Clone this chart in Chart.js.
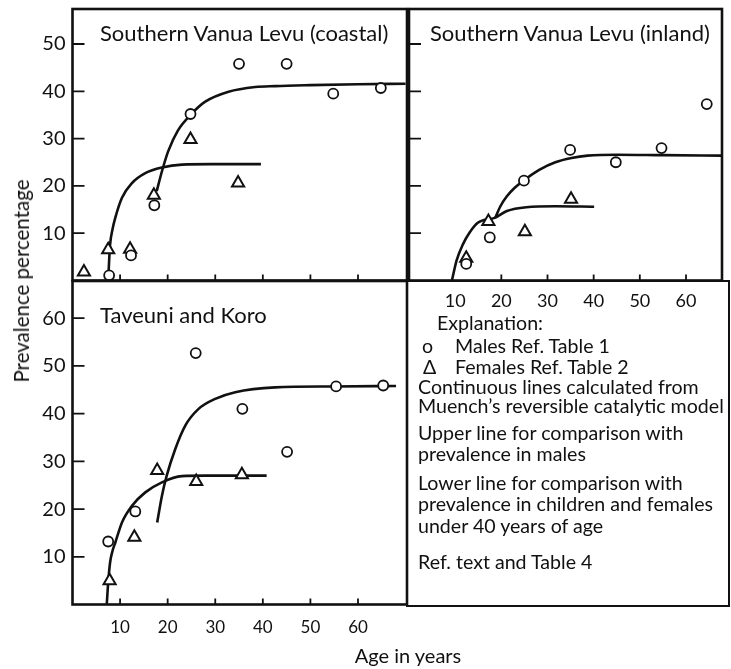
<!DOCTYPE html>
<html>
<head>
<meta charset="utf-8">
<script src="https://cdn.jsdelivr.net/npm/chart.js@4.4.1/dist/chart.umd.min.js"></script>
<style>
  body { margin: 0; background: #fff; }
  #page { position: relative; width: 731px; height: 669px; overflow: hidden; font-family: Lato, 'Open Sans', sans-serif; color: #111; }
  #page canvas { position: absolute; }
  .txt { position: absolute; white-space: nowrap; height: 24px; line-height: 24px; }
  .title { font-size: 22px; }
  .expl { font-size: 19.6px; }
  #box { position: absolute; left: 406px; top: 280px; width: 322px; height: 323px; border: 2.5px solid #111; border-left: none; }
  #ytitle { position: absolute; left: 21px; top: 281px; font-size: 20.5px; white-space: nowrap; transform: translate(-50%, -50%) rotate(-90deg); }
  #xtitle { position: absolute; left: 408px; top: 655px; font-size: 20px; white-space: nowrap; transform: translate(-50%, -50%); }
</style>
</head>
<body>
<div id="page">
  <div id="box"></div>
  <canvas id="coastal" width="420" height="300" style="left:0;top:0"></canvas>
  <canvas id="inland" width="331" height="330" style="left:400px;top:0"></canvas>
  <canvas id="taveuni" width="420" height="380" style="left:0;top:270px"></canvas>

  <div class="txt title" style="left:100px;top:21px">Southern Vanua Levu (coastal)</div>
  <div class="txt title" style="left:430px;top:21px">Southern Vanua Levu (inland)</div>
  <div class="txt title" style="left:100px;top:303px">Taveuni and Koro</div>

  <div class="txt expl" style="left:437px;top:311px">Explanation:</div>
  <div class="txt expl" style="left:422px;top:334px">o</div>
  <div class="txt expl" style="left:455px;top:334px">Males Ref. Table 1</div>
  <div class="txt expl" style="left:423px;top:355px">Δ</div>
  <div class="txt expl" style="left:455px;top:355px">Females Ref. Table 2</div>
  <div class="txt expl" style="left:418px;top:375px">Continuous lines calculated from</div>
  <div class="txt expl" style="left:418px;top:394px">Muench’s reversible catalytic model</div>
  <div class="txt expl" style="left:418px;top:421px">Upper line for comparison with</div>
  <div class="txt expl" style="left:418px;top:442px">prevalence in males</div>
  <div class="txt expl" style="left:418px;top:471px">Lower line for comparison with</div>
  <div class="txt expl" style="left:418px;top:492px">prevalence in children and females</div>
  <div class="txt expl" style="left:418px;top:514px">under 40 years of age</div>
  <div class="txt expl" style="left:418px;top:550px">Ref. text and Table 4</div>

  <div id="ytitle">Prevalence percentage</div>
  <div id="xtitle">Age in years</div>
</div>
<script>
const INK = '#111';

// tick values
const ageTicks = [10, 20, 30, 40, 50, 60];
const prevTicksTop = [10, 20, 30, 40, 50];
const prevTicksBottom = [10, 20, 30, 40, 50, 60];

// Southern Vanua Levu (coastal)
const coastalMaleAge = [7.7, 12.3, 17.2, 24.8, 35, 45, 54.8, 64.8];
const coastalMalePrev = [1.1, 5.3, 15.9, 35.2, 45.8, 45.8, 39.5, 40.7];
const coastalFemaleAge = [2.4, 7.5, 12.1, 17.1, 24.8, 34.8];
const coastalFemalePrev = [1.8, 6.5, 6.6, 18.0, 29.8, 20.6];
const coastalUpperAge = [17.7, 18.8, 20.1, 22.2, 24.9, 27.9, 32.8, 38.4, 42.6, 50, 60, 70];
const coastalUpperPrev = [18.9, 23.1, 27.3, 31.8, 35.1, 37.8, 39.9, 40.9, 41.1, 41.3, 41.5, 41.6];
const coastalLowerAge = [7.5, 7.7, 7.9, 8.4, 9.0, 10.4, 12.5, 15.3, 18.8, 23, 29.3, 39.6];
const coastalLowerPrev = [0, 4.2, 7.6, 10.8, 13.3, 17.5, 20.6, 22.7, 23.9, 24.5, 24.6, 24.6];

// Southern Vanua Levu (inland)
const inlandMaleAge = [12.4, 17.5, 24.9, 34.9, 44.8, 54.7, 64.5];
const inlandMalePrev = [3.5, 9.1, 21.1, 27.6, 25.0, 28.0, 37.3];
const inlandFemaleAge = [12.4, 17.2, 25.1, 35.1];
const inlandFemalePrev = [4.7, 12.5, 10.3, 17.2];
const inlandUpperAge = [18.7, 19.8, 21.2, 22.9, 24.9, 28.2, 31.7, 35.2, 38.7, 45.1, 55, 67.8];
const inlandUpperPrev = [13.3, 15.7, 17.8, 19.6, 21.2, 23.4, 25.0, 25.9, 26.4, 26.6, 26.5, 26.4];
const inlandLowerAge = [9.3, 10.3, 11.7, 13.1, 14.9, 18.7, 21.2, 25.4, 31.7, 40.1];
const inlandLowerPrev = [0, 4.2, 7.7, 10.1, 12.2, 13.3, 14.7, 15.5, 15.7, 15.6];

// Taveuni and Koro
const taveuniMaleAge = [7.5, 13.2, 25.9, 35.7, 45.1, 55.4, 65.3];
const taveuniMalePrev = [13.2, 19.5, 52.7, 41.0, 32.0, 45.7, 45.9];
const taveuniFemaleAge = [7.8, 13.0, 17.8, 26.0, 35.6];
const taveuniFemalePrev = [5.0, 14.1, 28.1, 25.8, 27.2];
const taveuniUpperAge = [17.8, 18.8, 19.8, 21.6, 23.7, 26.5, 30, 34.2, 42.6, 55, 68];
const taveuniUpperPrev = [17.2, 22.8, 27.0, 32.6, 37.5, 41.0, 43.1, 44.5, 45.5, 45.7, 45.8];
const taveuniLowerAge = [7.2, 7.5, 7.9, 8.4, 9.0, 10.4, 12.5, 15.3, 18.8, 23, 27.9, 40.8];
const taveuniLowerPrev = [0, 4.6, 8.8, 11.2, 13.0, 17.2, 20.7, 23.5, 25.6, 26.9, 27.0, 27.0];

const xy = (xs, ys) => xs.map((x, i) => ({ x, y: ys[i] }));

// inward tick marks plus the panel frame
const panelFrame = {
    id: 'panelFrame',
    afterDatasetsDraw(chart, args, opts) {
        const { ctx, chartArea: a, scales } = chart;
        ctx.save();
        ctx.strokeStyle = INK;
        ctx.lineWidth = 1.8;
        ctx.beginPath();
        scales.y.ticks.forEach((t) => {
            const py = scales.y.getPixelForValue(t.value);
            ctx.moveTo(a.left, py);
            ctx.lineTo(a.left + 12, py);
        });
        scales.x.ticks.forEach((t) => {
            if (t.value < opts.xFrom) return;
            const px = scales.x.getPixelForValue(t.value);
            ctx.moveTo(px, a.bottom);
            ctx.lineTo(px, a.bottom - 6);
        });
        ctx.stroke();
        ctx.lineWidth = 2.6;
        ctx.strokeRect(a.left, a.top, a.right - a.left, a.bottom - a.top);
        ctx.restore();
    },
};

function makePanel(id, cfg) {
    const series = [
        { data: xy(cfg.maleAge, cfg.malePrev), pointStyle: 'circle', pointRadius: 5, pointBorderWidth: 1.8, order: 0 },
        { data: xy(cfg.femaleAge, cfg.femalePrev), pointStyle: 'triangle', pointRadius: 7, pointBorderWidth: 2, order: 0 },
        { data: xy(cfg.upperAge, cfg.upperPrev), showLine: true, pointRadius: 0, borderWidth: 2.6, cubicInterpolationMode: 'monotone', order: 1 },
        { data: xy(cfg.lowerAge, cfg.lowerPrev), showLine: true, pointRadius: 0, borderWidth: 2.6, cubicInterpolationMode: 'monotone', order: 1 },
    ];
    series.forEach((s) => {
        s.borderColor = INK;
        s.backgroundColor = '#fff';
        s.pointBackgroundColor = '#fff';
        s.pointBorderColor = INK;
    });

    return new Chart(document.getElementById(id), {
        type: 'scatter',
        data: { datasets: series },
        options: {
            responsive: false,
            animation: false,
            events: [],
            layout: { padding: cfg.padding },
            plugins: {
                legend: { display: false },
                tooltip: { enabled: false },
                panelFrame: { xFrom: cfg.xFrom },
            },
            scales: {
                x: {
                    type: 'linear',
                    min: 0,
                    max: cfg.xMax,
                    grid: { display: false, drawTicks: false },
                    border: { display: false },
                    afterBuildTicks: (s) => { s.ticks = ageTicks.map((v) => ({ value: v })); },
                    afterFit: (s) => {
                        s.height = cfg.xAxisHeight;
                        s.paddingLeft = 0;
                        s.paddingRight = 0;
                    },
                    ticks: {
                        display: cfg.xLabels,
                        autoSkip: false,
                        maxRotation: 0,
                        padding: cfg.xPad,
                        color: INK,
                        font: { family: 'Lato', size: cfg.xFont },
                    },
                },
                y: {
                    type: 'linear',
                    min: 0,
                    max: cfg.yMax,
                    grid: { display: false, drawTicks: false },
                    border: { display: false },
                    afterBuildTicks: (s) => { s.ticks = cfg.yTicks.map((v) => ({ value: v })); },
                    afterFit: (s) => {
                        s.width = cfg.yAxisWidth;
                        s.paddingTop = 0;
                        s.paddingBottom = 0;
                    },
                    ticks: {
                        display: cfg.yLabels,
                        autoSkip: false,
                        padding: 7,
                        color: INK,
                        font: { family: 'Lato', size: 20 },
                    },
                },
            },
        },
        plugins: [panelFrame],
    });
}

makePanel('coastal', {
    maleAge: coastalMaleAge, malePrev: coastalMalePrev,
    femaleAge: coastalFemaleAge, femalePrev: coastalFemalePrev,
    upperAge: coastalUpperAge, upperPrev: coastalUpperPrev,
    lowerAge: coastalLowerAge, lowerPrev: coastalLowerPrev,
    xMax: 70.3, yMax: 57.4, xFrom: 10, yTicks: prevTicksTop,
    padding: { top: 7, right: 13, bottom: 0, left: 0 },
    xAxisHeight: 19.5, yAxisWidth: 72.5,
    xLabels: false, yLabels: true, xFont: 17, xPad: 10,
});

makePanel('inland', {
    maleAge: inlandMaleAge, malePrev: inlandMalePrev,
    femaleAge: inlandFemaleAge, femalePrev: inlandFemalePrev,
    upperAge: inlandUpperAge, upperPrev: inlandUpperPrev,
    lowerAge: inlandLowerAge, lowerPrev: inlandLowerPrev,
    xMax: 67.8, yMax: 57.4, xFrom: 20, yTicks: prevTicksTop,
    padding: { top: 7, right: 2, bottom: 0, left: 0 },
    xAxisHeight: 49.5, yAxisWidth: 7,
    xLabels: true, yLabels: false, xFont: 18, xPad: 10,
});

makePanel('taveuni', {
    maleAge: taveuniMaleAge, malePrev: taveuniMalePrev,
    femaleAge: taveuniFemaleAge, femalePrev: taveuniFemalePrev,
    upperAge: taveuniUpperAge, upperPrev: taveuniUpperPrev,
    lowerAge: taveuniLowerAge, lowerPrev: taveuniLowerPrev,
    xMax: 70.3, yMax: 67.8, xFrom: 10, yTicks: prevTicksBottom,
    padding: { top: 11, right: 13, bottom: 0, left: 0 },
    xAxisHeight: 45.5, yAxisWidth: 72.5,
    xLabels: true, yLabels: true, xFont: 17, xPad: 13,
});
</script>
</body>
</html>
